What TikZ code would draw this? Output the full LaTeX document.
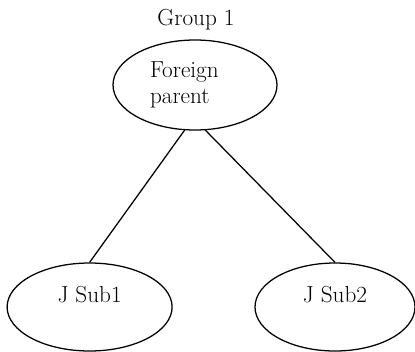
\documentclass[tikz,border=0pt]{standalone}
\usepackage{amsmath}
\usepackage{tikz}
\usetikzlibrary{positioning, shapes.geometric}

\begin{document}
\begin{tikzpicture}[line width=0.9pt, font=\fontsize{16.5}{18.5}\selectfont,
	entity/.style={draw, ellipse, inner sep=0pt}]
	\useasboundingbox (0, 0) rectangle (10.375, 8.775);
	\node (grp) at (4.9, 8.275) {Group 1};
	\node[entity, minimum width=4.1cm, minimum height=2.25cm, text width=2.25cm, align=left] (parent) at (4.875, 6.65) {Foreign\\parent};
	\node[entity, minimum width=4.125cm, minimum height=2.2cm, align=center] (sub1) at (2.24, 1.1) {J Sub1\\[0pt]~};
	\node[entity, minimum width=4.0cm, minimum height=2.2cm, align=center] (sub2) at (8.375, 1.1) {J Sub2\\[0pt]~};
	
	\draw  (parent.257) -- (sub1.north);
	\draw  (parent.283) -- (sub2.north);
\end{tikzpicture}
\end{document}
